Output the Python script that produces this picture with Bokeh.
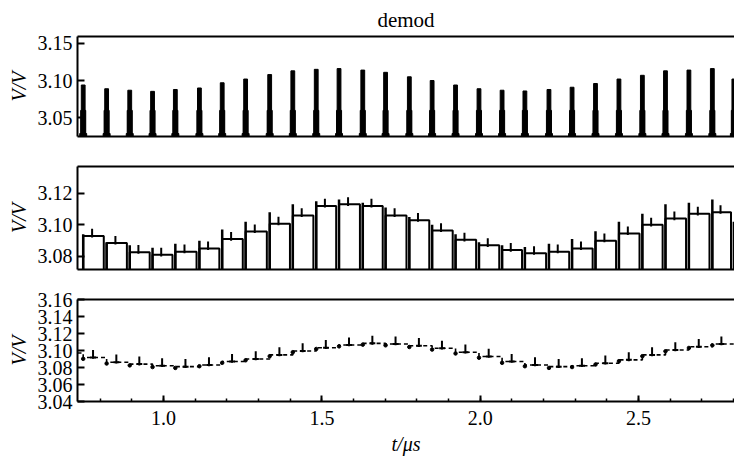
from bokeh.plotting import figure
from bokeh.layouts import column
from bokeh.models import (Range1d, LinearAxis, FixedTicker, SingleIntervalTicker,
                          PrintfTickFormatter, Title)
from bokeh.embed import file_html
from bokeh.resources import INLINE

# ---------------- data ----------------
spike_t = [0.746, 0.820, 0.893, 0.965, 1.037, 1.113, 1.185, 1.259, 1.335, 1.408,
           1.482, 1.554, 1.629, 1.701, 1.776, 1.848, 1.922, 1.996, 2.069, 2.141,
           2.217, 2.290, 2.364, 2.438, 2.512, 2.585, 2.659, 2.733, 2.801]
spike_peak = [3.094, 3.089, 3.087, 3.0855, 3.088, 3.090, 3.097, 3.102, 3.108, 3.113,
              3.115, 3.116, 3.114, 3.111, 3.105, 3.100, 3.094, 3.089, 3.087, 3.086,
              3.088, 3.091, 3.096, 3.102, 3.107, 3.113, 3.114, 3.116, 3.102]
hold_level = [3.093, 3.0885, 3.0827, 3.081, 3.083, 3.085, 3.091, 3.0958, 3.1007, 3.106,
              3.112, 3.113, 3.112, 3.106, 3.103, 3.0965, 3.0905, 3.087, 3.084, 3.082,
              3.083, 3.085, 3.090, 3.0945, 3.100, 3.104, 3.107, 3.108]
filt_start = 3.097
filt_level = [3.0917, 3.0862, 3.084, 3.082, 3.081, 3.083, 3.087, 3.090, 3.0948, 3.0995,
              3.1033, 3.1064, 3.1084, 3.1076, 3.1056, 3.1026, 3.098, 3.093, 3.087, 3.083,
              3.081, 3.082, 3.085, 3.089, 3.0948, 3.1006, 3.1045, 3.1076]

y1_ticks = [3.05, 3.10, 3.15]
y2_ticks = [3.08, 3.10, 3.12]
y3_ticks = [3.04, 3.06, 3.08, 3.10, 3.12, 3.14, 3.16]

X0, X1 = 0.728, 2.803
Y1 = (3.025, 3.159)
Y2 = (3.0717, 3.137)
Y3 = (3.04, 3.16)

FONT = "Liberation Serif"
W = 734


def base_fig(height, yr, top, bottom):
    p = figure(width=W, height=height, x_range=Range1d(X0, X1), y_range=Range1d(*yr),
               x_axis_type=None, y_axis_type=None, output_backend="svg",
               toolbar_location=None, min_border_left=77, min_border_right=0,
               min_border_top=top, min_border_bottom=bottom)
    p.outline_line_color = None
    p.background_fill_color = "white"
    p.border_fill_color = "white"
    return p


def y_axis(p, ticks, fmt="%.2f"):
    ax = LinearAxis(ticker=FixedTicker(ticks=ticks), formatter=PrintfTickFormatter(format=fmt),
                    axis_label="V/V")
    ax.axis_line_width = 2
    ax.axis_line_color = "black"
    ax.major_tick_in = 7
    ax.major_tick_out = 0
    ax.major_tick_line_width = 2
    ax.major_tick_line_color = "black"
    ax.minor_tick_line_color = None
    ax.major_label_text_font = FONT
    ax.major_label_text_font_size = "20px"
    ax.major_label_text_color = "black"
    ax.major_label_standoff = 5
    ax.axis_label_text_font = FONT
    ax.axis_label_text_font_size = "20px"
    ax.axis_label_text_font_style = "italic"
    ax.axis_label_text_color = "black"
    ax.axis_label_standoff = 5
    p.add_layout(ax, "left")


def plain_axis(p, loc):
    ax = LinearAxis(ticker=FixedTicker(ticks=[]))
    ax.axis_line_width = 2
    ax.axis_line_color = "black"
    ax.major_tick_line_color = None
    ax.minor_tick_line_color = None
    ax.major_label_text_font_size = "0px"
    ax.major_label_standoff = 0
    p.add_layout(ax, loc)


# ---------------- panel 1: spikes ----------------
p1 = base_fig(151, Y1, 34, 15)
plain_axis(p1, "above")
p1.add_layout(Title(text="demod", align="center", text_font=FONT, text_font_size="21px",
                    text_font_style="normal", text_color="black", standoff=10), "above")
plain_axis(p1, "below")
y_axis(p1, y1_ticks)
bot1 = Y1[0] - 0.01
p1.vbar(x=spike_t, top=spike_peak, bottom=bot1, width=0.012, color="black")
p1.vbar(x=spike_t, top=[3.06] * len(spike_t), bottom=bot1, width=0.016, color="black")
p1.vbar(x=spike_t, top=[3.029] * len(spike_t), bottom=bot1, width=0.022, color="black")

# ---------------- panel 2: sample-and-hold bars ----------------
p2 = base_fig(133, Y2, 15, 15)
plain_axis(p2, "above")
plain_axis(p2, "below")
y_axis(p2, y2_ticks)
bot2 = Y2[0] - 0.01
n = len(hold_level)
left = spike_t[:n]
right = [spike_t[i + 1] - 0.009 for i in range(n)]
p2.quad(left=left, right=right, top=hold_level, bottom=bot2, fill_color="white",
        line_color="black", line_width=2)
p2.segment(x0=spike_t, x1=spike_t, y0=[bot2] * len(spike_t), y1=spike_peak,
           line_color="black", line_width=2.5)
tick_x = [spike_t[i] + 0.38 * (spike_t[i + 1] - spike_t[i]) for i in range(n)]
p2.segment(x0=tick_x, x1=tick_x, y0=[h - 0.001 for h in hold_level],
           y1=[h + 0.0045 for h in hold_level], line_color="black", line_width=2)

# ---------------- panel 3: filtered output ----------------
p3 = base_fig(173, Y3, 15, 55)
plain_axis(p3, "above")
y_axis(p3, y3_ticks)
xa = LinearAxis(ticker=SingleIntervalTicker(interval=0.5, num_minor_ticks=5),
                formatter=PrintfTickFormatter(format="%.1f"), axis_label="t/\u03bcs")
xa.axis_line_width = 2
xa.axis_line_color = "black"
xa.major_tick_in = 6
xa.major_tick_out = 0
xa.major_tick_line_width = 2
xa.major_tick_line_color = "black"
xa.minor_tick_in = 3
xa.minor_tick_out = 0
xa.minor_tick_line_width = 1.5
xa.minor_tick_line_color = "black"
xa.major_label_text_font = FONT
xa.major_label_text_font_size = "20px"
xa.major_label_text_color = "black"
xa.major_label_standoff = 9
xa.axis_label_text_font = FONT
xa.axis_label_text_font_size = "20px"
xa.axis_label_text_font_style = "italic"
xa.axis_label_text_color = "black"
xa.axis_label_standoff = 5
p3.add_layout(xa, "below")

sx = [X0] + spike_t[:n] + [X1]
sy = [filt_start] + filt_level + [filt_level[-1]]
p3.step(x=sx, y=sy, mode="after", line_color="black", line_width=1.6, line_dash="4 3")
tx = [spike_t[i] + 0.42 * (spike_t[i + 1] - spike_t[i]) for i in range(n)]
sa = [spike_t[i] + 0.30 * (spike_t[i + 1] - spike_t[i]) for i in range(n)]
sb = [spike_t[i] + 0.55 * (spike_t[i + 1] - spike_t[i]) for i in range(n)]
p3.segment(x0=sa, x1=sb, y0=filt_level, y1=filt_level, line_color="black", line_width=2)
p3.segment(x0=tx, x1=tx, y0=[v - 0.0015 for v in filt_level],
           y1=[v + 0.009 for v in filt_level], line_color="black", line_width=2)
p3.scatter(x=spike_t[:n], y=[v - 0.0015 for v in filt_level], size=3.5, color="black")

layout = column(p1, p2, p3, spacing=0)
open("out.html", "w").write(file_html(layout, INLINE))
